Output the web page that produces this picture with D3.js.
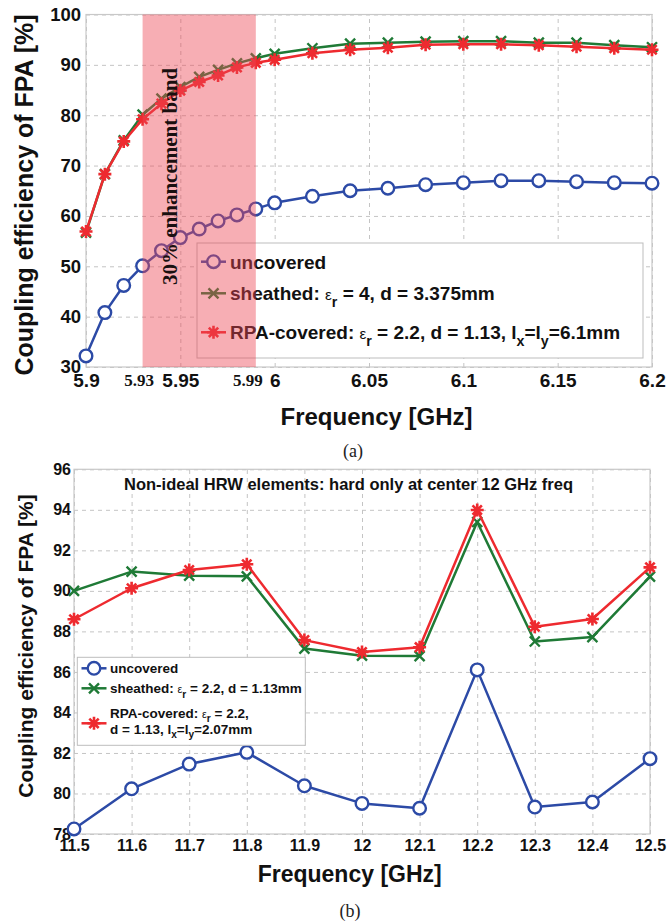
<!DOCTYPE html>
<html><head><meta charset="utf-8">
<script src="https://cdn.jsdelivr.net/npm/d3@7"></script>
<style>
html,body{margin:0;padding:0;background:#fff;}
svg{display:block;}
</style></head>
<body>
<svg id="chart" width="668" height="922"></svg>
<script>
// ---------- DATA: chart (a) ----------
const topFreq = [5.90,5.91,5.92,5.93,5.94,5.95,5.96,5.97,5.98,5.99,6.00,6.02,6.04,6.06,6.08,6.10,6.12,6.14,6.16,6.18,6.20];
const topUncovered = [32.2,40.8,46.2,50.1,53.1,55.7,57.4,59.0,60.2,61.4,62.6,63.9,65.0,65.5,66.2,66.6,67.0,67.0,66.8,66.6,66.5];
const topSheathed  = [56.7,68.3,75.0,80.1,83.3,85.6,87.6,89.0,90.3,91.3,92.2,93.3,94.2,94.4,94.6,94.7,94.7,94.4,94.4,93.9,93.5];
const topRPA       = [56.9,68.3,74.8,79.2,82.3,84.9,86.6,87.9,89.5,90.4,91.0,92.3,93.0,93.4,94.0,94.1,94.1,93.9,93.6,93.3,93.0];
const topXTicks = [5.9,5.95,6,6.05,6.1,6.15,6.2];
const topXTickLabels = ["5.9","5.95","6","6.05","6.1","6.15","6.2"];
const topExtraTicks = [5.93,5.99];
const topExtraTickLabels = ["5.93","5.99"];
const topYTicks = [30,40,50,60,70,80,90,100];
const bandRange = [5.93,5.99];
const bandLabel = "30% enhancement band";

// ---------- DATA: chart (b) ----------
const botFreq = [11.5,11.6,11.7,11.8,11.9,12.0,12.1,12.2,12.3,12.4,12.5];
const botUncovered = [78.25,80.23,81.45,82.03,80.38,79.51,79.27,86.1,79.33,79.58,81.72];
const botSheathed  = [90.0,90.95,90.75,90.72,87.15,86.8,86.78,93.4,87.5,87.72,90.7];
const botRPA       = [88.6,90.13,91.03,91.31,87.57,86.98,87.22,93.99,88.23,88.61,91.16];
const botXTicks = [11.5,11.6,11.7,11.8,11.9,12,12.1,12.2,12.3,12.4,12.5];
const botXTickLabels = ["11.5","11.6","11.7","11.8","11.9","12","12.1","12.2","12.3","12.4","12.5"];
const botYTicks = [78,80,82,84,86,88,90,92,94,96];
const botTitle = "Non-ideal HRW elements: hard only at center 12 GHz freq";

const C_BLUE = "#2c4aa6", C_GREEN = "#1f7a36", C_RED = "#ee2a2f";
const SANS = "'Liberation Sans', Arial, sans-serif";
const SERIF = "'Liberation Serif', 'Times New Roman', serif";
const GRID = "#c4c4c4";

const svg = d3.select("#chart");

function markerCircle(g, x, y, col, r){
  g.append("circle").attr("cx",x).attr("cy",y).attr("r",r)
   .attr("fill","#fff").attr("stroke",col).attr("stroke-width",2.4);
}
function markerX(g, x, y, col, s){
  g.append("path").attr("d",`M${x-s},${y-s}L${x+s},${y+s}M${x-s},${y+s}L${x+s},${y-s}`)
   .attr("stroke",col).attr("stroke-width",2.4).attr("fill","none");
}
function markerStar(g, x, y, col, s){
  const d = s*0.72;
  g.append("path").attr("d",`M${x-s},${y}L${x+s},${y}M${x},${y-s}L${x},${y+s}M${x-d},${y-d}L${x+d},${y+d}M${x-d},${y+d}L${x+d},${y-d}`)
   .attr("stroke",col).attr("stroke-width",2.6).attr("fill","none");
}

function drawPanel(cfg){
  const g = svg.append("g");
  const x = d3.scaleLinear().domain(cfg.xDomain).range(cfg.xRange);
  const y = d3.scaleLinear().domain(cfg.yDomain).range(cfg.yRange);
  const L = cfg.xRange[0], R = cfg.xRange[1], T = cfg.yRange[1], B = cfg.yRange[0];

  const gx = g.append("g").attr("transform",`translate(0,${B})`)
    .call(d3.axisBottom(x).tickValues(cfg.xTicks).tickSize(-(B-T)).tickFormat(""));
  const gy = g.append("g").attr("transform",`translate(${L},0)`)
    .call(d3.axisLeft(y).tickValues(cfg.yTicks).tickSize(-(R-L)).tickFormat(""));
  [gx,gy].forEach(a=>{
    a.select(".domain").remove();
    a.selectAll("line").attr("stroke",GRID).attr("stroke-dasharray","4,4").attr("stroke-width",1);
  });
  g.append("rect").attr("x",L).attr("y",T).attr("width",R-L).attr("height",B-T)
    .attr("fill","none").attr("stroke","#c8c8c8").attr("stroke-width",1.2);

  const ax = g.append("g").attr("transform",`translate(0,${B})`)
    .call(d3.axisBottom(x).tickValues(cfg.xTicks).tickSize(0).tickPadding(cfg.xPad)
      .tickFormat((d,i)=>cfg.xLabels[i]));
  ax.select(".domain").remove();
  ax.selectAll("text").attr("font-family",SANS).attr("font-weight","bold")
    .attr("font-size",cfg.tickFs).attr("fill","#111");
  const ay = g.append("g").attr("transform",`translate(${L},0)`)
    .call(d3.axisLeft(y).tickValues(cfg.yTicks).tickSize(0).tickPadding(cfg.yPad));
  ay.select(".domain").remove();
  ay.selectAll("text").attr("font-family",SANS).attr("font-weight","bold")
    .attr("font-size",cfg.yTickFs).attr("fill","#111");

  const line = d3.line().x(d=>x(d[0])).y(d=>y(d[1]));
  cfg.series.forEach(s=>{
    const pts = cfg.freq.map((f,i)=>[f,s.values[i]]);
    g.append("path").datum(pts).attr("d",line).attr("fill","none")
      .attr("stroke",s.color).attr("stroke-width",2.5).attr("stroke-linejoin","round");
    const mg = g.append("g");
    pts.forEach(p=>s.marker(mg,x(p[0]),y(p[1]),s.color,s.size));
  });
  return {g,x,y,L,R,T,B};
}

// ---------------- Panel (a) ----------------
const A = drawPanel({
  xDomain:[5.9,6.2], xRange:[86,652], yDomain:[30,100], yRange:[367,14.5],
  xTicks:topXTicks, xLabels:topXTickLabels, yTicks:topYTicks,
  tickFs:19, yTickFs:18.5, xPad:7, yPad:5,
  freq:topFreq,
  series:[
    {values:topUncovered,color:C_BLUE,marker:markerCircle,size:6.3},
    {values:topSheathed,color:C_GREEN,marker:markerX,size:5},
    {values:topRPA,color:C_RED,marker:markerStar,size:6.5}
  ]
});
// extra serif tick labels (nudged left like the original)
A.g.selectAll("text.extra").data(topExtraTicks).join("text").attr("class","extra")
  .attr("x",(d,i)=>A.x(d) - (i===0?3.5:8)).attr("y",386).attr("text-anchor","middle")
  .attr("font-family",SERIF).attr("font-weight","bold").attr("font-size",17).attr("fill","#111")
  .text((d,i)=>topExtraTickLabels[i]);

function legend(g, cfg){
  g.append("rect").attr("x",cfg.x).attr("y",cfg.y).attr("width",cfg.w).attr("height",cfg.h)
    .attr("fill","#fff").attr("stroke","#bdbdbd").attr("stroke-width",1);
  cfg.items.forEach(it=>{
    g.append("line").attr("x1",cfg.lx0).attr("x2",cfg.lx1).attr("y1",it.my).attr("y2",it.my)
      .attr("stroke",it.color).attr("stroke-width",2.5);
    it.marker(g,(cfg.lx0+cfg.lx1)/2,it.my,it.color,it.size);
    it.lines.forEach((parts,li)=>{
      const t = g.append("text").attr("x",cfg.tx).attr("y",it.ty+li*cfg.lh)
        .attr("font-family",SANS).attr("font-weight","bold").attr("font-size",cfg.fs).attr("fill","#111");
      parts.forEach(p=>{
        const ts = t.append("tspan").text(p.t);
        if(p.eps){ ts.attr("font-weight","normal").attr("font-size",cfg.fs*0.8); }
        if(p.sub){ ts.attr("font-size",cfg.fs*0.75).attr("dy",cfg.fs*0.35); }
        if(p.up){ ts.attr("dy",-cfg.fs*0.35); }
      });
    });
  });
}
legend(A.g,{
  x:197,y:243,w:446,h:115,lx0:201,lx1:226,tx:230,fs:19,lh:0,
  items:[
    {color:C_BLUE,marker:markerCircle,size:6.3,my:261.7,ty:268.5,lines:[[{t:"uncovered"}]]},
    {color:C_GREEN,marker:markerX,size:5,my:293.3,ty:300,lines:[[{t:"sheathed: "},{t:"ε",eps:true},{t:"r",sub:true},{t:" = 4, d = 3.375mm",up:true}]]},
    {color:C_RED,marker:markerStar,size:6.5,my:332.3,ty:339,lines:[[{t:"RPA-covered: "},{t:"ε",eps:true},{t:"r",sub:true},{t:" = 2.2, d = 1.13, l",up:true},{t:"x",sub:true},{t:"=l",up:true},{t:"y",sub:true},{t:"=6.1mm",up:true}]]}
  ]
});

// enhancement band (overlay)
A.g.append("rect").attr("x",A.x(bandRange[0])).attr("width",A.x(bandRange[1])-A.x(bandRange[0]))
  .attr("y",A.T).attr("height",A.B-A.T)
  .attr("fill","rgb(236,70,85)").attr("fill-opacity",0.44);
A.g.append("text").attr("transform","translate(177,176.5) rotate(-90)")
  .attr("text-anchor","middle").attr("font-family",SERIF).attr("font-weight","bold")
  .attr("font-size",21).attr("fill","#1a1010").text(bandLabel);

svg.append("text").attr("x",376.5).attr("y",425).attr("text-anchor","middle")
  .attr("font-family",SANS).attr("font-weight","bold").attr("font-size",24).attr("fill","#111")
  .text("Frequency [GHz]");
svg.append("text").attr("transform","translate(33,195) rotate(-90)").attr("text-anchor","middle")
  .attr("font-family",SANS).attr("font-weight","bold").attr("font-size",25).attr("fill","#111")
  .text("Coupling efficiency of FPA [%]");
svg.append("text").attr("x",353).attr("y",456.5).attr("text-anchor","middle")
  .attr("font-family",SERIF).attr("font-size",18).attr("fill","#222").text("(a)");

// ---------------- Panel (b) ----------------
const Bp = drawPanel({
  xDomain:[11.5,12.5], xRange:[74,650], yDomain:[78,96], yRange:[834,469.3],
  xTicks:botXTicks, xLabels:botXTickLabels, yTicks:botYTicks,
  tickFs:16, yTickFs:16, xPad:6, yPad:3,
  freq:botFreq,
  series:[
    {values:botUncovered,color:C_BLUE,marker:markerCircle,size:6.3},
    {values:botSheathed,color:C_GREEN,marker:markerX,size:5},
    {values:botRPA,color:C_RED,marker:markerStar,size:6.5}
  ]
});
Bp.g.append("text").attr("x",124).attr("y",490).attr("font-family",SANS).attr("font-weight","bold")
  .attr("font-size",16.5).attr("fill","#111").text(botTitle);

legend(Bp.g,{
  x:77.3,y:657.3,w:228,h:88,lx0:81.5,lx1:106.5,tx:110,fs:13.5,lh:16,
  items:[
    {color:C_BLUE,marker:markerCircle,size:6.3,my:668.3,ty:673.3,lines:[[{t:"uncovered"}]]},
    {color:C_GREEN,marker:markerX,size:5,my:688.3,ty:693.3,lines:[[{t:"sheathed: "},{t:"ε",eps:true},{t:"r",sub:true},{t:" = 2.2, d = 1.13mm",up:true}]]},
    {color:C_RED,marker:markerStar,size:6.5,my:723.3,ty:717.5,lines:[
      [{t:"RPA-covered: "},{t:"ε",eps:true},{t:"r",sub:true},{t:" = 2.2,",up:true}],
      [{t:"d = 1.13, l"},{t:"x",sub:true},{t:"=l",up:true},{t:"y",sub:true},{t:"=2.07mm",up:true}]
    ]}
  ]
});

svg.append("text").attr("x",349.7).attr("y",881.7).attr("text-anchor","middle")
  .attr("font-family",SANS).attr("font-weight","bold").attr("font-size",23).attr("fill","#111")
  .text("Frequency [GHz]");
svg.append("text").attr("transform","translate(33.3,646) rotate(-90)").attr("text-anchor","middle")
  .attr("font-family",SANS).attr("font-weight","bold").attr("font-size",21).attr("fill","#111")
  .text("Coupling efficiency of FPA [%]");
svg.append("text").attr("x",350).attr("y",916.5).attr("text-anchor","middle")
  .attr("font-family",SERIF).attr("font-size",18).attr("fill","#222").text("(b)");
</script>
</body></html>
